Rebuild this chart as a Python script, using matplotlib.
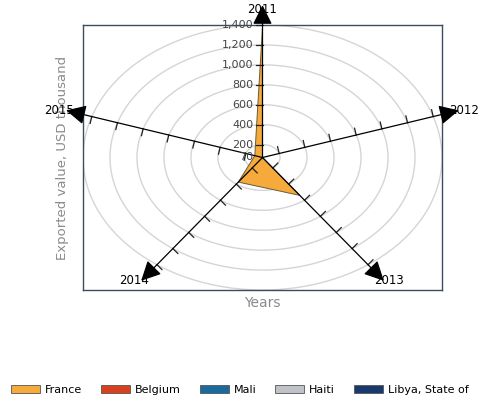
import numpy as np
import matplotlib.pyplot as plt
from matplotlib.patches import Patch

# data
years = ['2011', '2012', '2013', '2014', '2015']
countries = ['France', 'Belgium', 'Mali', 'Haiti', 'Libya, State of']
france = [1380, 70, 540, 375, 130]
belgium = [20, 15, 30, 10, 25]
mali = [5, 0, 12, 8, 3]
haiti = [0, 4, 2, 0, 6]
libya = [10, 0, 0, 15, 0]
values = [france, belgium, mali, haiti, libya]
colors = ['#f7aa3c', '#d9411e', '#1a6a9e', '#bfc3c7', '#173a6b']

rmin, rmax = 70, 1400
grid_vals = [200, 400, 600, 800, 1000, 1200, 1400]
tick_labels = ['200', '400', '600', '800', '1,000', '1,200', '1,400']

W, H = 480, 403
fig = plt.figure(figsize=(W / 100, H / 100), dpi=100)
ax = fig.add_axes([83 / W, 1 - 290 / H, 359 / W, 265 / H])
ax.set_xlim(-1, 1)
ax.set_ylim(-1, 1)
ax.set_xticks([])
ax.set_yticks([])
for s in ax.spines.values():
    s.set_color('#3c4d5f')
    s.set_linewidth(1)

# pixels per data unit (for perpendicular ticks)
sx = 359 / 2
sy = 265 / 2

theta = np.arange(len(years)) * 2 * np.pi / len(years)


def scale(v):
    return (np.clip(np.asarray(v, dtype=float), rmin, rmax) - rmin) / (rmax - rmin)


# grid circles
t = np.linspace(0, 2 * np.pi, 300)
for g in grid_vals:
    r = scale(g)
    ax.plot(r * np.sin(t), r * np.cos(t), color='#d5d5d5', lw=1, zorder=1)

# series polygons
for vals, c in list(zip(values, colors))[::-1]:
    r = scale(vals)
    xs = r * np.sin(theta)
    ys = r * np.cos(theta)
    ax.fill(xs, ys, facecolor=c, edgecolor='#6b5a3a' if c == colors[0] else c,
            lw=0.7, zorder=3)

# axes with arrows, ticks and labels
tip = 1.15
for th, yr in zip(theta, years):
    dx, dy = np.sin(th), np.cos(th)
    ax.annotate('', xy=(tip * dx, tip * dy), xytext=(0, 0),
                arrowprops=dict(arrowstyle='-|>', mutation_scale=30,
                                color='black', lw=0.9, shrinkA=0, shrinkB=0),
                annotation_clip=False, zorder=5)
    # perpendicular tick direction (in pixel space, ccw side)
    px, py = dx * sx, dy * sy
    n = np.hypot(px, py)
    tx, ty = -py / n * 7 / sx, px / n * 7 / sy
    for g in grid_vals:
        r = scale(g)
        ax.plot([r * dx, r * dx + tx], [r * dy, r * dy + ty], color='#222222',
                lw=0.9, zorder=4, clip_on=False)
    lx, ly = tip * dx, tip * dy
    if abs(dx) < 0.1:
        ax.text(lx, ly - 0.03, yr, ha='center', va='center', fontsize=8.5, zorder=4)
    elif dx > 0:
        ax.text(lx - 10 / sx, ly, yr, ha='left', va='center', fontsize=8.5, zorder=4)
    else:
        ax.text(lx + 8 / sx, ly, yr, ha='right', va='center', fontsize=8.5, zorder=4)

# value labels on the first axis
ax.text(-9 / sx, 0, '70', ha='right', va='center', fontsize=8, color='#444444', zorder=6)
for g, lab in zip(grid_vals, tick_labels):
    ax.text(-9 / sx, scale(g), lab, ha='right', va='center', fontsize=8,
            color='#444444', zorder=6)

ax.set_ylabel('Exported value, USD thousand', color='#8a8a8a', fontsize=9.5, labelpad=10)
ax.set_xlabel('Years', color='#8a8a8a', fontsize=10, labelpad=4)

handles = [Patch(facecolor=c, edgecolor='#555555', lw=0.6) for c in colors]
fig.legend(handles, countries, loc='center', bbox_to_anchor=(0.5, 1 - 390 / H),
           ncol=5, frameon=False, fontsize=8, handlelength=2.6, handleheight=0.7,
           columnspacing=1.7, handletextpad=0.45, borderpad=0)

fig.savefig('out.png', dpi=100)
